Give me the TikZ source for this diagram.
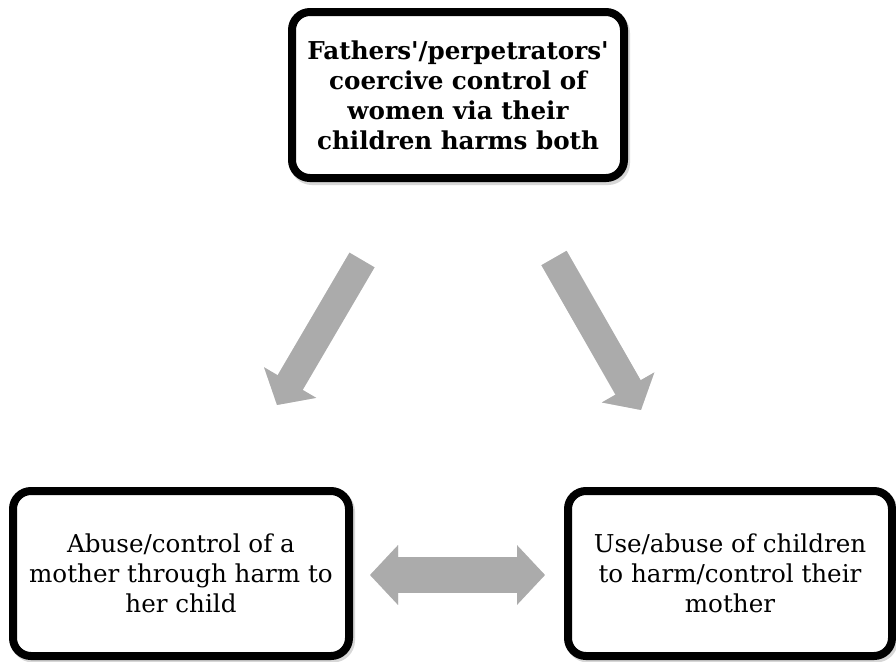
\documentclass[tikz,border=0pt]{standalone}
\usepackage{fontspec}
\setmainfont{DejaVu Serif}
\usetikzlibrary{arrows.meta}
\definecolor{arrowgray}{RGB}{171,171,171}
\definecolor{shadowgray}{RGB}{215,215,215}
\tikzstyle{mybox} = [draw=black, fill=white, line width=4pt, rectangle,
    rounded corners=9pt, align=center, inner sep=0pt,
    font=\fontsize{12.3}{15}\selectfont]
\tikzstyle{boldbox} = [mybox, font=\fontsize{12.3}{15}\selectfont\bfseries]
\tikzstyle{boxshadow} = [draw=shadowgray, fill=shadowgray, line width=4pt, rectangle, rounded corners=9pt]
\tikzstyle{fatarrow} = [draw=arrowgray, line width=14.5pt, -{Triangle[width=29.5pt, length=13pt]}]
\tikzstyle{fatshadow} = [fatarrow, draw=shadowgray, fill=shadowgray, shift={(3,3)}]
\tikzstyle{twoarrow} = [draw=arrowgray, line width=18pt, {Triangle[width=29pt, length=14pt]}-{Triangle[width=29pt, length=14pt]}]
\tikzstyle{twoshadow} = [twoarrow, draw=shadowgray, fill=shadowgray, shift={(3,3)}]

\begin{document}
\begin{tikzpicture}[x=0.5pt, y=-0.5pt]
    \useasboundingbox (0,0) rectangle (896,661);
    \fill[white] (0,0) rectangle (896,661);

    \coordinate (l1) at (362,260);
    \coordinate (l2) at (277,405);
    \coordinate (r1) at (554,258);
    \coordinate (r2) at (641,410);
    \coordinate (m1) at (370,575);
    \coordinate (m2) at (545,575);

    \draw[fatshadow] (l1) -- (l2);
    \draw[fatshadow] (r1) -- (r2);
    \draw[twoshadow] (m1) -- (m2);
    \draw[fatarrow] (l1) -- (l2);
    \draw[fatarrow] (r1) -- (r2);
    \draw[twoarrow] (m1) -- (m2);

    \node[boxshadow, minimum width=166pt, minimum height=83pt] at (460,98) {};
    \node[boxshadow, minimum width=168pt, minimum height=82.5pt] at (183,576) {};
    \node[boxshadow, minimum width=162pt, minimum height=82.5pt] at (732,576) {};

    \node[boldbox, minimum width=166pt, minimum height=83pt] (top) at (458,95)
        {Fathers\textquotesingle/perpetrators\textquotesingle\\coercive control of\\women via their\\children harms both};
    \node[mybox, minimum width=168pt, minimum height=82.5pt] (left) at (181,573.5)
        {Abuse/control of a\\mother through harm to\\her child};
    \node[mybox, minimum width=162pt, minimum height=82.5pt] (right) at (730,573.5)
        {Use/abuse of children\\to harm/control their\\mother};
\end{tikzpicture}
\end{document}
